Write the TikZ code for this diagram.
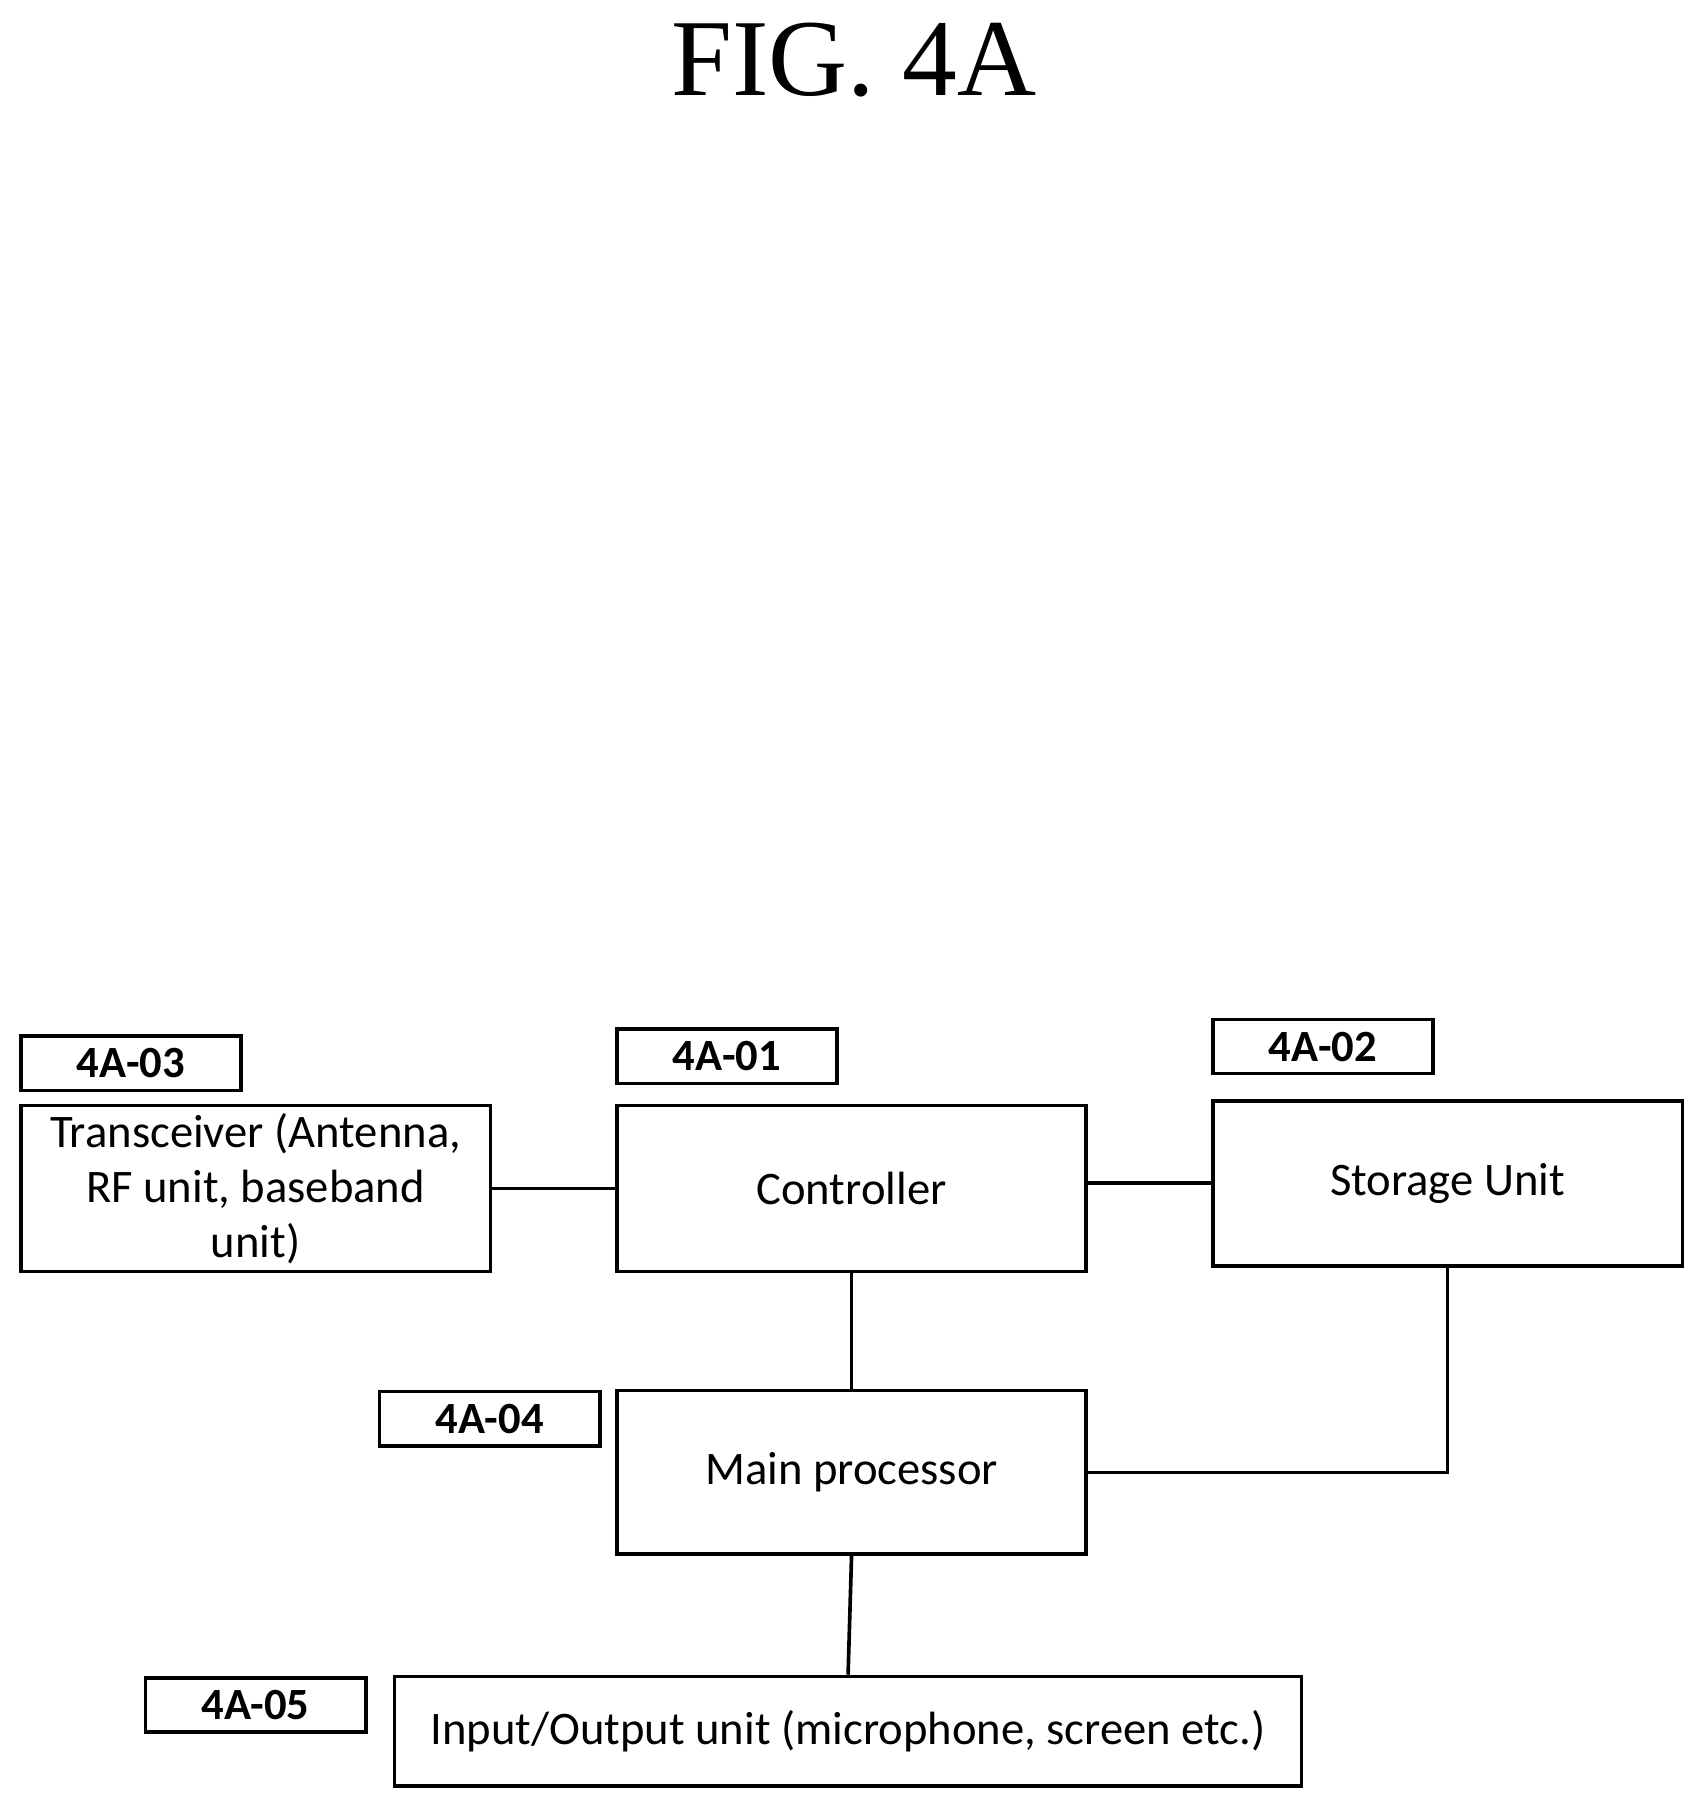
\documentclass[tikz,border=0pt]{standalone}
\usepackage{fontspec}
\setmainfont{Carlito}
\newfontfamily\figfont{Liberation Serif}
\begin{document}
\begin{tikzpicture}[x=0.1mm,y=-0.1mm,
      blk/.style={draw,line width=0.9pt,align=center,inner sep=0pt,font=\fontsize{11.5}{13.6}\selectfont},
      tag/.style={draw,line width=0.9pt,minimum width=19.1mm,minimum height=4.7mm,inner sep=0pt,font=\fontsize{11}{13}\selectfont\bfseries}]
      \useasboundingbox (0,0) rectangle (1470,1560);
      \node[font=\figfont\fontsize{27}{30}\selectfont] (Title) at (740,52) {FIG. 4A};
      % labels
      \node[tag] (T03) at (113.5,921.5) {4A-03};
      \node[tag] (T01) at (630,915.5) {4A-01};
      \node[tag] (T02) at (1146.5,907) {4A-02};
      \node[tag] (T04) at (424.5,1229.5) {4A-04};
      \node[tag] (T05) at (221.5,1477.5) {4A-05};
      % blocks
      \node[blk,minimum width=40.7mm,minimum height=14.4mm] (Trx) at (221.5,1030) {Transceiver (Antenna,\\ RF unit, baseband\\ unit)};
      \node[blk,minimum width=40.6mm,minimum height=14.4mm] (Ctrl) at (738,1030) {Controller};
      \node[blk,minimum width=40.7mm,minimum height=14.3mm] (Stor) at (1254.5,1025.5) {Storage Unit};
      \node[blk,minimum width=40.6mm,minimum height=14.2mm] (Proc) at (738,1276) {Main processor};
      \node[blk,minimum width=78.6mm,minimum height=9.5mm] (IO) at (735,1500.5) {Input/Output unit (microphone, screen etc.)};
      % connectors
      \draw[line width=0.9pt] (Trx.east) -- (Ctrl.west);
      \draw[line width=0.9pt] (Ctrl.east |- Stor.west) -- (Stor.west);
      \draw[line width=0.9pt] (Ctrl.south) -- (Proc.north);
      \draw[line width=0.9pt] (Stor.south) |- (Proc.east);
      \draw[line width=0.9pt] (Proc.south) -- (IO.north);
\end{tikzpicture}
\end{document}
